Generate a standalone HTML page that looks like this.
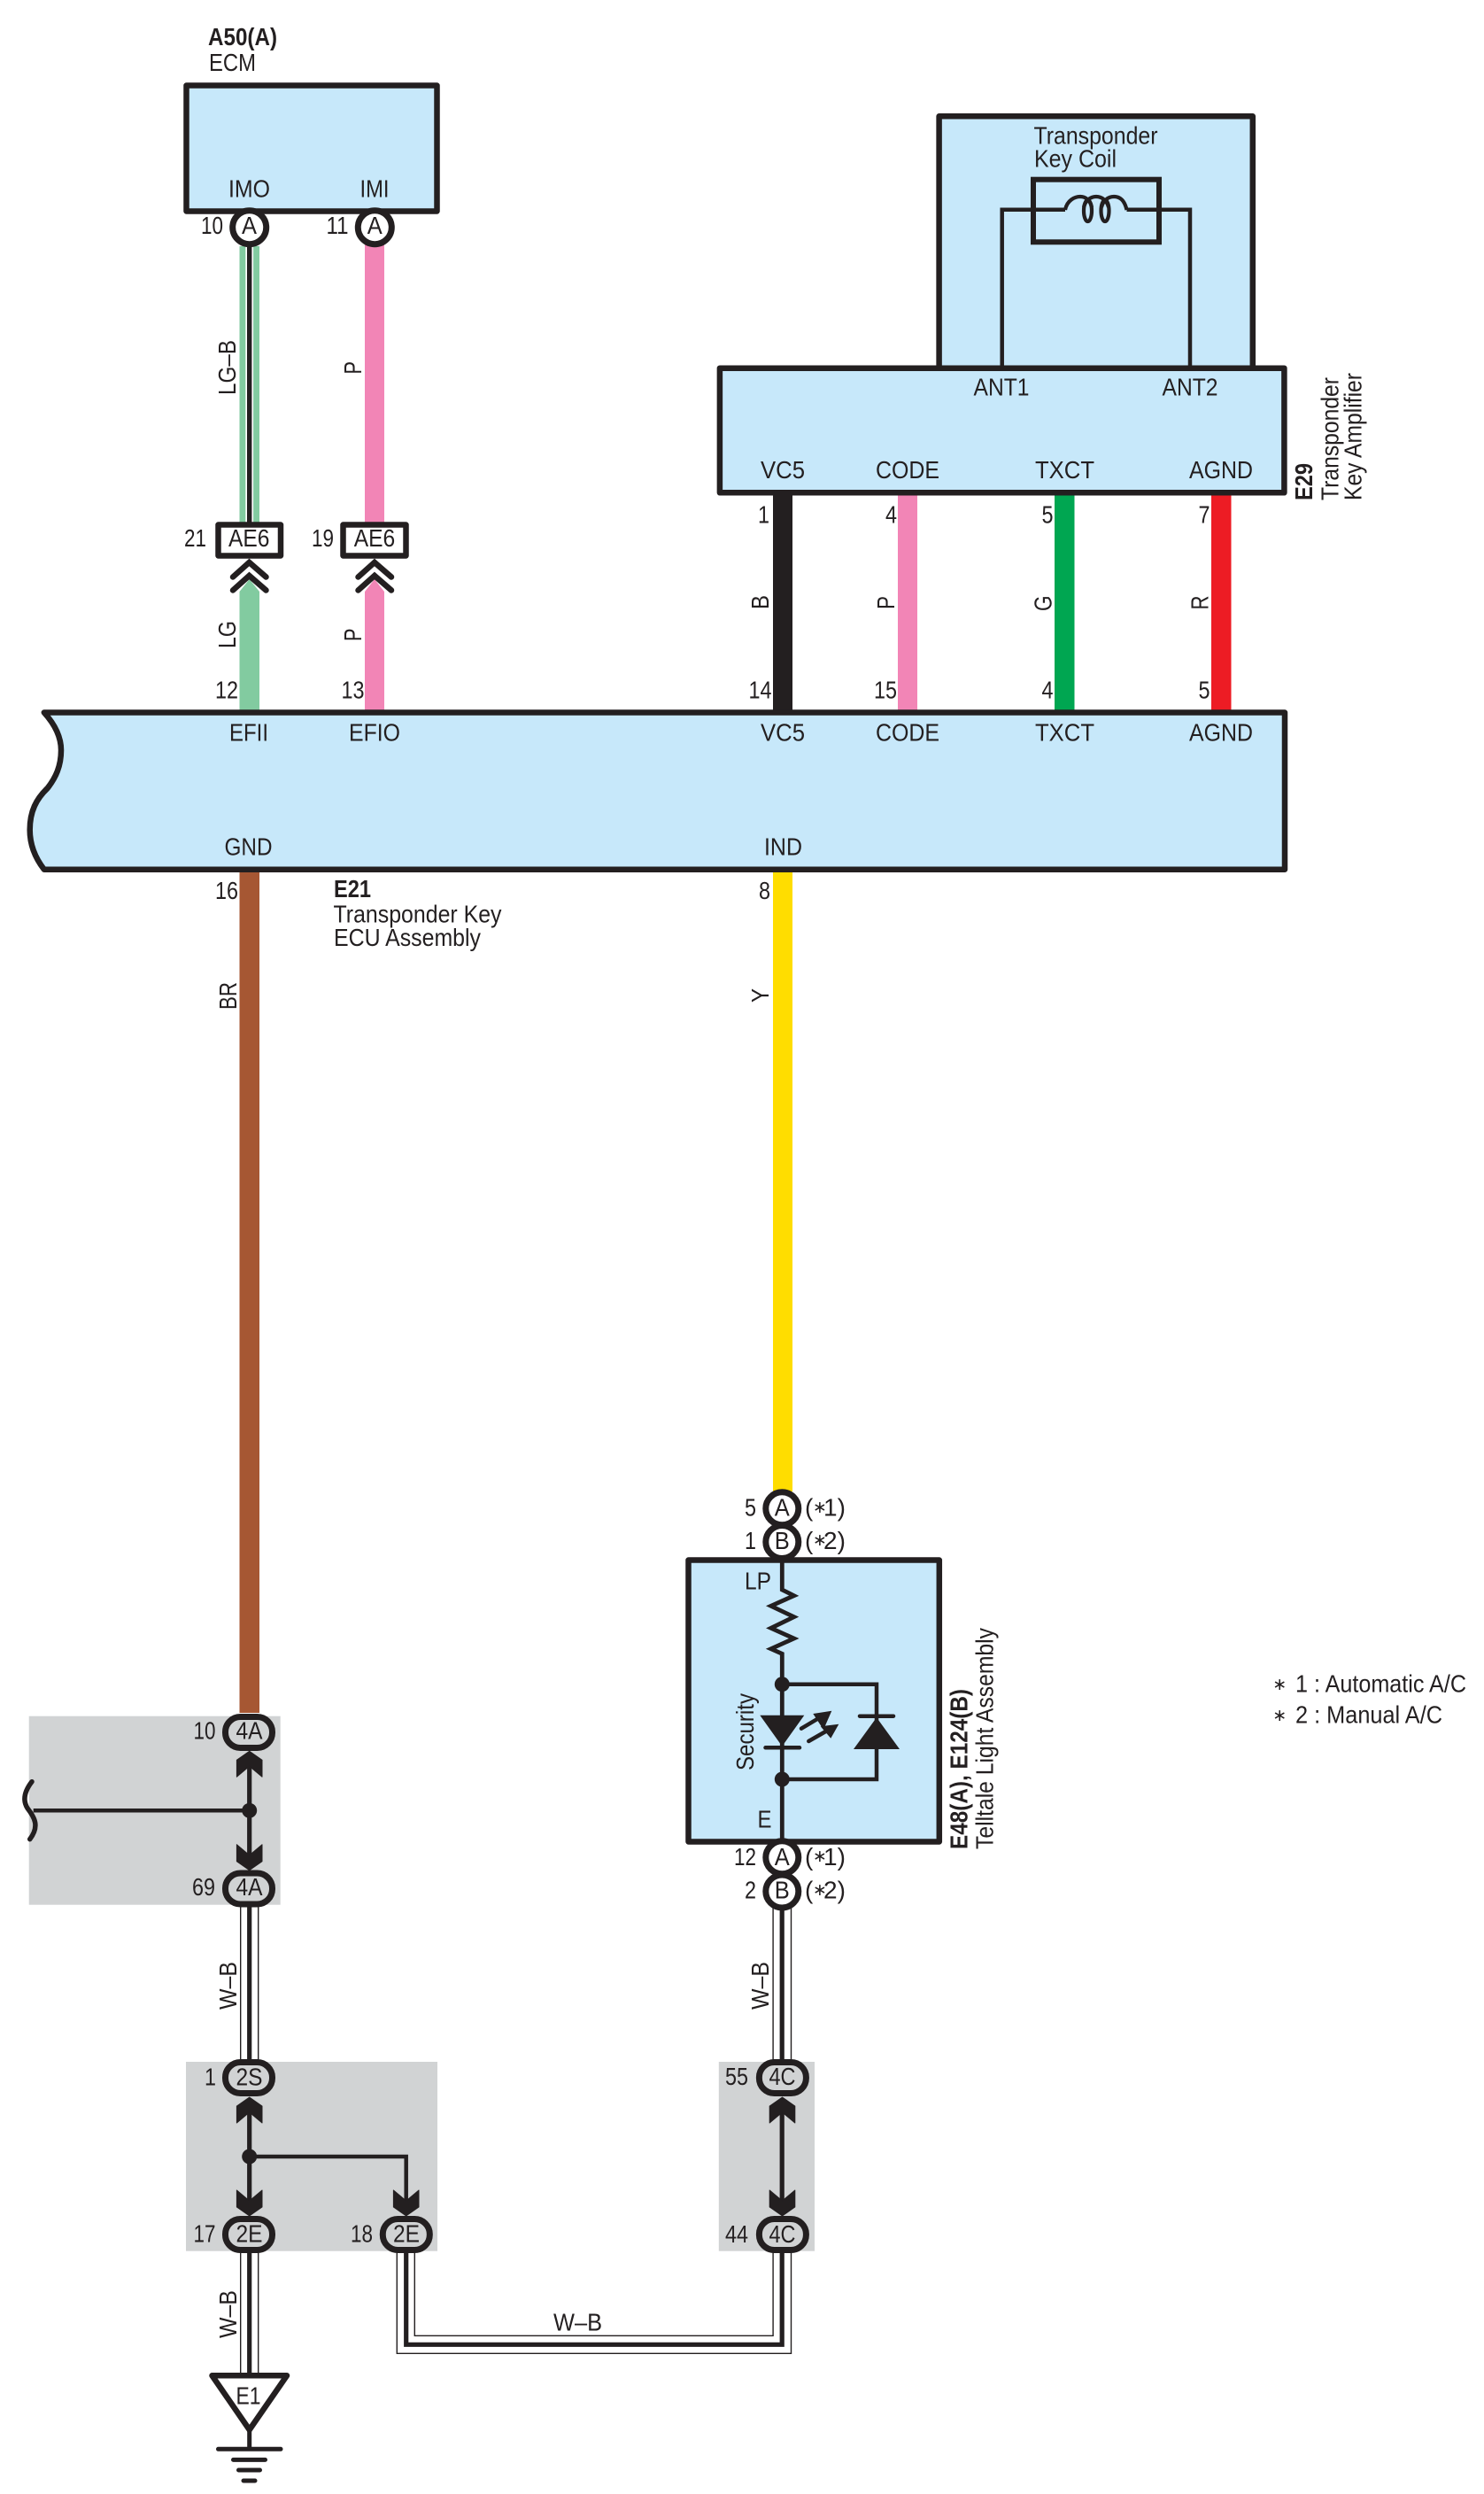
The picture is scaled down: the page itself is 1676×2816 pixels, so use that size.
<!DOCTYPE html>
<html lang="en">
<head>
<meta charset="utf-8">
<title>Transponder Key ECU wiring diagram</title>
<style>
html,body{margin:0;padding:0;background:#fff}
svg{display:block}
text{font-family:"Liberation Sans","DejaVu Sans",sans-serif;font-size:28px;fill:#231F20}
.b{font-weight:bold;font-size:27.5px}
.s{font-family:"DejaVu Sans","Liberation Sans",sans-serif;font-size:19px}
.box{fill:#C7E8FA;stroke:#231F20;stroke-width:6.5;stroke-linejoin:round}
.k{fill:none;stroke:#231F20;stroke-width:4.5}
.c{fill:#fff;stroke:#231F20;stroke-width:7}
.o{fill:#D1D3D4;stroke:#231F20;stroke-width:7}
.thin{fill:none;stroke:#231F20;stroke-width:1.4}
.blk{fill:none;stroke:#231F20;stroke-width:5.2}
</style>
</head>
<body>
<svg xmlns="http://www.w3.org/2000/svg" width="1676" height="2816" viewBox="0 0 1676 2816">
<defs>
<polygon id="arr" points="0,0 14.3,10 14.3,29 0,17 -14.3,29 -14.3,10" fill="#231F20" stroke="#231F20" stroke-width="1" stroke-linejoin="round"/>
</defs>
<rect width="1676" height="2816" fill="#fff"/>

<!-- grey zones -->
<rect x="32.7" y="1937.7" width="284" height="213" fill="#D1D3D4"/>
<rect x="210" y="2328" width="284" height="213.7" fill="#D1D3D4"/>
<rect x="811.8" y="2328" width="108.2" height="213.7" fill="#D1D3D4"/>

<!-- colored wires -->
<rect x="270.5" y="278" width="22.5" height="312" fill="#82CBA0"/>
<rect x="277.3" y="278" width="8.8" height="312" fill="#fff"/>
<rect x="279" y="278" width="5.4" height="312" fill="#231F20"/>
<rect x="412" y="270" width="22" height="320" fill="#F285B6"/>
<polygon points="270.5,668 281.7,654 293,668 293,804 270.5,804" fill="#82CBA0"/>
<polygon points="412,668 423,654 434,668 434,804 412,804" fill="#F285B6"/>
<rect x="873" y="556" width="22" height="248" fill="#231F20"/>
<rect x="1014" y="556" width="22" height="248" fill="#F285B6"/>
<rect x="1191" y="556" width="22.5" height="248" fill="#00A651"/>
<rect x="1368" y="556" width="22.5" height="248" fill="#ED1C24"/>
<rect x="270.5" y="982" width="22.5" height="952" fill="#A65733"/>
<rect x="873" y="982" width="22" height="702" fill="#FFDD00"/>

<!-- W-B double wires -->
<path class="thin" d="M271.7,2150V2328M291.7,2150V2328M271.7,2540V2682M291.7,2540V2682"/>
<path class="blk" d="M281.7,2150V2328M281.7,2540V2682"/>
<path class="thin" d="M873.1,2152V2328M893.5,2152V2328"/>
<path class="blk" d="M883.2,2152V2328"/>
<path class="thin" d="M448.3,2540V2657.3H893.5V2540M468.3,2540V2637.3H873.1V2540"/>
<path class="blk" d="M458.7,2540V2647.3H883.2V2540"/>

<!-- ECM -->
<rect class="box" x="210.5" y="96.5" width="283" height="142"/>
<circle class="c" cx="281.7" cy="256.7" r="19"/>
<circle class="c" cx="423.3" cy="256.7" r="19"/>

<!-- AE6 connectors -->
<rect x="246.5" y="592.5" width="70.5" height="35" fill="#fff" stroke="#231F20" stroke-width="6.5" stroke-linejoin="round"/>
<rect x="387.5" y="592.5" width="71" height="35" fill="#fff" stroke="#231F20" stroke-width="6.5" stroke-linejoin="round"/>
<g fill="none" stroke="#231F20" stroke-width="6.5" stroke-linecap="round" stroke-linejoin="miter">
<path d="M263,651.5L281.5,635L300.5,651.5"/>
<path d="M263,666.5L281.5,650L300.5,666.5"/>
<path d="M404.5,651.5L423,635L442,651.5"/>
<path d="M404.5,666.5L423,650L442,666.5"/>
</g>

<!-- Upper coil box -->
<path class="box" d="M1060.6,416V131.3H1414.8V416Z"/>
<rect x="1167" y="202.7" width="142" height="70.6" fill="none" stroke="#231F20" stroke-width="6"/>
<path class="k" d="M1131.7,416V236.7H1203M1272.5,236.7H1344V416"/>
<g fill="none" stroke="#231F20" stroke-width="4.2">
<path d="M1203,237C1205,226 1214,222 1220,222C1226,222 1231,226 1233,234"/>
<path d="M1224,234C1226,226 1232,222 1238,222C1244,222 1250,226 1252,234"/>
<path d="M1244,234C1246,226 1252,222 1258,222C1265,222 1270,226 1272.5,237"/>
<ellipse cx="1228.5" cy="238" rx="4.5" ry="12"/>
<ellipse cx="1248" cy="238" rx="4.5" ry="12"/>
</g>
<rect class="box" x="812.9" y="415.7" width="637.5" height="140.6"/>

<!-- Main E21 box -->
<path class="box" d="M49.8,804.5C62,818 69,832 69,847C69,865 63,878 53.6,890C41,902 33.7,916 33.7,937C33.7,955 40,969 49.8,981.7H1451V804.5Z"/>

<!-- Telltale -->
<rect class="box" x="777.5" y="1761.5" width="283.3" height="318"/>
<path d="M883.3,1762V1795L896.7,1801.7L870.7,1813.3L896.7,1825.7L870.7,1838.3L896.7,1850L870.7,1861.7L883.3,1867.3V2080" fill="none" stroke="#231F20" stroke-width="4.8" stroke-linejoin="miter"/>
<path class="k" d="M883.3,1901.7H990V2009H883.3"/>
<circle cx="883.3" cy="1901.7" r="8.5" fill="#231F20"/>
<circle cx="883.3" cy="2009" r="8.5" fill="#231F20"/>
<polygon points="858.3,1936.7 908.3,1936.7 883.3,1971.7" fill="#231F20"/>
<path d="M864.5,1973.3H903" stroke="#231F20" stroke-width="4.5" stroke-linecap="round"/>
<polygon points="990,1939.3 1016,1975 964,1975" fill="#231F20"/>
<path d="M971,1937.7H1009" stroke="#231F20" stroke-width="4.5" stroke-linecap="round"/>
<path d="M905,1951.7L928,1938M913.3,1966L936,1953" stroke="#231F20" stroke-width="4.5" stroke-linecap="round"/>
<polygon points="939.3,1931.7 918.3,1935 930,1953" fill="#231F20"/>
<polygon points="947.3,1946.7 926.7,1949.3 938.3,1962.7" fill="#231F20"/>
<circle class="c" cx="883.3" cy="1703.3" r="18.5"/>
<circle class="c" cx="883.3" cy="1741" r="18.5"/>
<circle class="c" cx="883.3" cy="2097.3" r="18.5"/>
<circle class="c" cx="883.3" cy="2135.5" r="18.5"/>

<!-- splice lines -->
<path class="blk" d="M281.7,1990V2095"/>
<path class="k" d="M281.7,2044.3H37.7"/>
<circle cx="281.7" cy="2044.3" r="8.5" fill="#231F20"/>
<path d="M36,2011.7C28,2022 25,2032 31,2041.7C39,2052 45,2062 33.7,2076.7" fill="none" stroke="#231F20" stroke-width="5.5" stroke-linecap="round"/>
<path class="blk" d="M281.7,2385V2490"/>
<path class="k" d="M281.7,2435H458.7V2490"/>
<circle cx="281.7" cy="2435" r="8.5" fill="#231F20"/>
<path class="blk" d="M883.2,2385V2490"/>

<!-- arrows -->
<use href="#arr" transform="translate(281.7,1977.3)"/>
<use href="#arr" transform="translate(281.7,2111.7) scale(1,-1)"/>
<use href="#arr" transform="translate(281.7,2368)"/>
<use href="#arr" transform="translate(281.7,2502) scale(1,-1)"/>
<use href="#arr" transform="translate(458.7,2502) scale(1,-1)"/>
<use href="#arr" transform="translate(883.5,2368)"/>
<use href="#arr" transform="translate(883.5,2502) scale(1,-1)"/>

<!-- ovals -->
<rect class="o" x="254.5" y="1938.5" width="53" height="35" rx="17"/>
<rect class="o" x="254.5" y="2115" width="53" height="35" rx="17"/>
<rect class="o" x="254.5" y="2328.5" width="53" height="35" rx="17"/>
<rect class="o" x="254.5" y="2505.5" width="53" height="35" rx="17"/>
<rect class="o" x="432.3" y="2505.5" width="53" height="35" rx="17"/>
<rect class="o" x="857.4" y="2328.5" width="53" height="35" rx="17"/>
<rect class="o" x="857.4" y="2505.5" width="53" height="35" rx="17"/>

<!-- ground -->
<polygon points="239.5,2682.3 324,2682.3 281.7,2743.5" fill="#fff" stroke="#231F20" stroke-width="6.5" stroke-linejoin="round"/>
<path d="M281.7,2745V2765" stroke="#231F20" stroke-width="5"/>
<path d="M246.5,2765.3H317M263.5,2777.4H299.5M269.5,2789H293.5M275,2801H288" stroke="#231F20" stroke-width="5" stroke-linecap="round"/>

<!-- text -->
<text class="b" x="235" y="51" textLength="78" lengthAdjust="spacingAndGlyphs">A50(A)</text>
<text x="236" y="80" textLength="53" lengthAdjust="spacingAndGlyphs">ECM</text>
<text x="258" y="222.6" textLength="47" lengthAdjust="spacingAndGlyphs">IMO</text>
<text x="406.5" y="222.6" textLength="33" lengthAdjust="spacingAndGlyphs">IMI</text>
<text x="227" y="264" textLength="25" lengthAdjust="spacingAndGlyphs">10</text>
<text x="368.5" y="264" textLength="25" lengthAdjust="spacingAndGlyphs">11</text>
<text x="273" y="264" textLength="17" lengthAdjust="spacingAndGlyphs">A</text>
<text x="414.7" y="264" textLength="17" lengthAdjust="spacingAndGlyphs">A</text>
<text x="258" y="617" textLength="46.5" lengthAdjust="spacingAndGlyphs">AE6</text>
<text x="399.7" y="617" textLength="46.5" lengthAdjust="spacingAndGlyphs">AE6</text>
<text x="208" y="617" textLength="25" lengthAdjust="spacingAndGlyphs">21</text>
<text x="352" y="617" textLength="25" lengthAdjust="spacingAndGlyphs">19</text>
<text transform="translate(266,446) rotate(-90)" textLength="62" lengthAdjust="spacingAndGlyphs">LG–B</text>
<text transform="translate(408,422.5) rotate(-90)" textLength="14.5" lengthAdjust="spacingAndGlyphs">P</text>
<text transform="translate(266,732) rotate(-90)" textLength="31" lengthAdjust="spacingAndGlyphs">LG</text>
<text transform="translate(408,724) rotate(-90)" textLength="14.5" lengthAdjust="spacingAndGlyphs">P</text>
<text x="243" y="788.5" textLength="26" lengthAdjust="spacingAndGlyphs">12</text>
<text x="385.5" y="788.5" textLength="26" lengthAdjust="spacingAndGlyphs">13</text>
<text x="856" y="590.7" textLength="13" lengthAdjust="spacingAndGlyphs">1</text>
<text x="1000" y="590.7" textLength="13" lengthAdjust="spacingAndGlyphs">4</text>
<text x="1176.5" y="590.7" textLength="13" lengthAdjust="spacingAndGlyphs">5</text>
<text x="1353.5" y="590.7" textLength="13" lengthAdjust="spacingAndGlyphs">7</text>
<text x="845.5" y="788.3" textLength="26" lengthAdjust="spacingAndGlyphs">14</text>
<text x="987" y="788.3" textLength="26" lengthAdjust="spacingAndGlyphs">15</text>
<text x="1176.5" y="788.3" textLength="13" lengthAdjust="spacingAndGlyphs">4</text>
<text x="1353.5" y="788.3" textLength="13" lengthAdjust="spacingAndGlyphs">5</text>
<text transform="translate(868,688) rotate(-90)" textLength="16" lengthAdjust="spacingAndGlyphs">B</text>
<text transform="translate(1010,688) rotate(-90)" textLength="15" lengthAdjust="spacingAndGlyphs">P</text>
<text transform="translate(1187.5,690) rotate(-90)" textLength="17.5" lengthAdjust="spacingAndGlyphs">G</text>
<text transform="translate(1364.5,688.5) rotate(-90)" textLength="16" lengthAdjust="spacingAndGlyphs">R</text>
<text x="859" y="540" textLength="50" lengthAdjust="spacingAndGlyphs">VC5</text>
<text x="989" y="540" textLength="72" lengthAdjust="spacingAndGlyphs">CODE</text>
<text x="1169" y="540" textLength="67" lengthAdjust="spacingAndGlyphs">TXCT</text>
<text x="1343" y="540" textLength="72" lengthAdjust="spacingAndGlyphs">AGND</text>
<text x="1099.5" y="446.7" textLength="63" lengthAdjust="spacingAndGlyphs">ANT1</text>
<text x="1312.5" y="446.7" textLength="63" lengthAdjust="spacingAndGlyphs">ANT2</text>
<text x="1167.5" y="162.3" textLength="140" lengthAdjust="spacingAndGlyphs">Transponder</text>
<text x="1168" y="188.3" textLength="93" lengthAdjust="spacingAndGlyphs">Key Coil</text>
<text class="b" transform="translate(1482,565) rotate(-90)" textLength="42" lengthAdjust="spacingAndGlyphs">E29</text>
<text transform="translate(1511.5,565) rotate(-90)" textLength="139" lengthAdjust="spacingAndGlyphs">Transponder</text>
<text transform="translate(1537.5,565) rotate(-90)" textLength="144" lengthAdjust="spacingAndGlyphs">Key Amplifier</text>
<text x="259" y="836.7" textLength="44" lengthAdjust="spacingAndGlyphs">EFII</text>
<text x="394" y="836.7" textLength="58" lengthAdjust="spacingAndGlyphs">EFIO</text>
<text x="859" y="836.7" textLength="50" lengthAdjust="spacingAndGlyphs">VC5</text>
<text x="989" y="836.7" textLength="72" lengthAdjust="spacingAndGlyphs">CODE</text>
<text x="1169" y="836.7" textLength="67" lengthAdjust="spacingAndGlyphs">TXCT</text>
<text x="1343" y="836.7" textLength="72" lengthAdjust="spacingAndGlyphs">AGND</text>
<text x="253.5" y="965.7" textLength="54" lengthAdjust="spacingAndGlyphs">GND</text>
<text x="863" y="965.7" textLength="43" lengthAdjust="spacingAndGlyphs">IND</text>
<text x="243" y="1015" textLength="26" lengthAdjust="spacingAndGlyphs">16</text>
<text x="857" y="1015" textLength="13" lengthAdjust="spacingAndGlyphs">8</text>
<text class="b" x="377" y="1013" textLength="42" lengthAdjust="spacingAndGlyphs">E21</text>
<text x="376.5" y="1041.7" textLength="190" lengthAdjust="spacingAndGlyphs">Transponder Key</text>
<text x="377" y="1068" textLength="166" lengthAdjust="spacingAndGlyphs">ECU Assembly</text>
<text transform="translate(267,1140) rotate(-90)" textLength="31" lengthAdjust="spacingAndGlyphs">BR</text>
<text transform="translate(868,1132) rotate(-90)" textLength="16" lengthAdjust="spacingAndGlyphs">Y</text>
<text x="841" y="1711.7" textLength="13" lengthAdjust="spacingAndGlyphs">5</text>
<text x="841" y="1749" textLength="13" lengthAdjust="spacingAndGlyphs">1</text>
<text x="829" y="2106" textLength="25" lengthAdjust="spacingAndGlyphs">12</text>
<text x="841" y="2143.5" textLength="13" lengthAdjust="spacingAndGlyphs">2</text>
<text x="874.7" y="1711.7" textLength="17" lengthAdjust="spacingAndGlyphs">A</text>
<text x="874.7" y="1749" textLength="17" lengthAdjust="spacingAndGlyphs">B</text>
<text x="874.7" y="2106" textLength="17" lengthAdjust="spacingAndGlyphs">A</text>
<text x="874.7" y="2143.5" textLength="17" lengthAdjust="spacingAndGlyphs">B</text>
<text x="909" y="1711.7">(</text><text class="s" x="918" y="1708">∗</text><text x="930" y="1711.7">1)</text>
<text x="909" y="1749">(</text><text class="s" x="918" y="1745">∗</text><text x="930" y="1749">2)</text>
<text x="909" y="2106">(</text><text class="s" x="918" y="2102">∗</text><text x="930" y="2106">1)</text>
<text x="909" y="2143.5">(</text><text class="s" x="918" y="2140">∗</text><text x="930" y="2143.5">2)</text>
<text x="841" y="1794.3" textLength="30" lengthAdjust="spacingAndGlyphs">LP</text>
<text x="855.5" y="2063.3" textLength="16" lengthAdjust="spacingAndGlyphs">E</text>
<text transform="translate(851,1999) rotate(-90)" textLength="87" lengthAdjust="spacingAndGlyphs">Security</text>
<text class="b" transform="translate(1092.5,2088) rotate(-90)" textLength="181" lengthAdjust="spacingAndGlyphs">E48(A), E124(B)</text>
<text transform="translate(1121.5,2088) rotate(-90)" textLength="250" lengthAdjust="spacingAndGlyphs">Telltale Light Assembly</text>
<text x="218.5" y="1963.3" textLength="25" lengthAdjust="spacingAndGlyphs">10</text>
<text x="217" y="2140" textLength="26" lengthAdjust="spacingAndGlyphs">69</text>
<text x="266.5" y="1963.3" textLength="30" lengthAdjust="spacingAndGlyphs">4A</text>
<text x="266.5" y="2140" textLength="30" lengthAdjust="spacingAndGlyphs">4A</text>
<text x="231" y="2354.4" textLength="13" lengthAdjust="spacingAndGlyphs">1</text>
<text x="218.5" y="2531.5" textLength="25" lengthAdjust="spacingAndGlyphs">17</text>
<text x="396" y="2531.5" textLength="25" lengthAdjust="spacingAndGlyphs">18</text>
<text x="266.5" y="2354.4" textLength="30" lengthAdjust="spacingAndGlyphs">2S</text>
<text x="266.5" y="2531.5" textLength="30" lengthAdjust="spacingAndGlyphs">2E</text>
<text x="444" y="2531.5" textLength="30" lengthAdjust="spacingAndGlyphs">2E</text>
<text x="819" y="2354" textLength="26" lengthAdjust="spacingAndGlyphs">55</text>
<text x="819" y="2532" textLength="26" lengthAdjust="spacingAndGlyphs">44</text>
<text x="868.5" y="2354" textLength="30" lengthAdjust="spacingAndGlyphs">4C</text>
<text x="868.5" y="2532" textLength="30" lengthAdjust="spacingAndGlyphs">4C</text>
<text transform="translate(267,2269) rotate(-90)" textLength="54" lengthAdjust="spacingAndGlyphs">W–B</text>
<text transform="translate(868,2269) rotate(-90)" textLength="54" lengthAdjust="spacingAndGlyphs">W–B</text>
<text transform="translate(267,2640) rotate(-90)" textLength="54" lengthAdjust="spacingAndGlyphs">W–B</text>
<text x="625" y="2631.7" textLength="55" lengthAdjust="spacingAndGlyphs">W–B</text>
<text x="266.5" y="2714.3" textLength="28" lengthAdjust="spacingAndGlyphs">E1</text>
<text class="s" x="1445.3" y="1908" text-anchor="middle">∗</text>
<text class="s" x="1445.3" y="1943" text-anchor="middle">∗</text>
<text x="1463" y="1910.7" textLength="193" lengthAdjust="spacingAndGlyphs">1 : Automatic A/C</text>
<text x="1463" y="1945.7" textLength="166" lengthAdjust="spacingAndGlyphs">2 : Manual A/C</text>
</svg>
</body>
</html>
